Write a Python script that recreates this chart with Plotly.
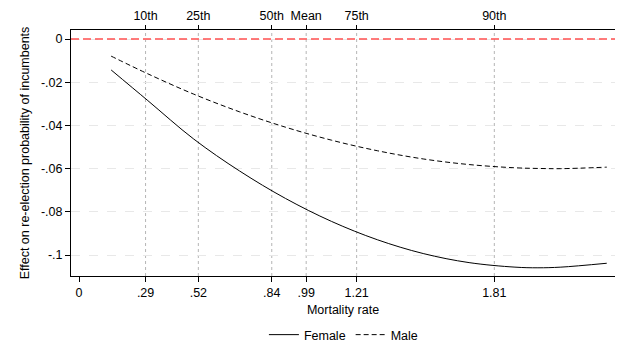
import plotly.graph_objects as go

# Mortality rate grid and predicted effects
mortality = [0.14, 0.3, 0.5, 0.7, 0.9, 1.1, 1.3, 1.5, 1.7, 1.9, 2.0, 2.1, 2.3]
female_effect = [-0.0143, -0.0285, -0.0463, -0.0611, -0.0738, -0.0844, -0.0929,
                 -0.0993, -0.1035, -0.1056, -0.1059, -0.1056, -0.1038]
male_effect = [-0.0079, -0.0161, -0.0255, -0.0337, -0.0408, -0.0468, -0.0517,
               -0.0555, -0.0581, -0.0596, -0.0599, -0.0600, -0.0593]

# Distribution markers
pct_values = [0.29, 0.52, 0.84, 0.99, 1.21, 1.81]
pct_labels = ["10th", "25th", "50th", "Mean", "75th", "90th"]
bottom_ticks = [0, 0.29, 0.52, 0.84, 0.99, 1.21, 1.81]
bottom_labels = ["0", ".29", ".52", ".84", ".99", "1.21", "1.81"]
y_ticks = [0, -0.02, -0.04, -0.06, -0.08, -0.1]
y_labels = ["0", "-.02", "-.04", "-.06", "-.08", "-.1"]

x_range = [-0.035, 2.336]
y_range = [-0.1097, 0.0042]
font_family = "Liberation Sans, Arial, sans-serif"

fig = go.Figure()
fig.add_trace(go.Scatter(x=mortality, y=female_effect, mode="lines", name="Female",
                         line=dict(color="black", width=1, shape="spline")))
fig.add_trace(go.Scatter(x=mortality, y=male_effect, mode="lines", name="Male",
                         line=dict(color="black", width=1, dash="5px,3px", shape="spline")))
# dummy trace to activate the top axis
fig.add_trace(go.Scatter(x=[None], y=[None], xaxis="x2", showlegend=False))

shapes = []
for v in pct_values:
    shapes.append(dict(type="line", xref="x", yref="paper", x0=v, x1=v, y0=0, y1=1,
                       line=dict(color="#b5b5b5", width=1, dash="dot"), layer="below"))
shapes.append(dict(type="line", xref="paper", yref="y", x0=0, x1=1, y0=0, y1=0,
                   line=dict(color="#ff5050", width=1.5, dash="8px,4px")))
fig.update_layout(shapes=shapes)

fig.update_layout(
    width=621, height=350,
    margin=dict(l=71, r=6, t=30, b=74, autoexpand=False),
    paper_bgcolor="white", plot_bgcolor="white",
    font=dict(family=font_family, size=12.5, color="black"),
    xaxis=dict(range=x_range, tickvals=bottom_ticks, ticktext=bottom_labels,
               showgrid=False, zeroline=False, showline=True, linecolor="black",
               linewidth=1, ticks="outside", ticklen=5, tickcolor="black",
               automargin=False,
               title=dict(text="Mortality rate", standoff=6, font=dict(size=12.5))),
    xaxis2=dict(range=x_range, overlaying="x", side="top", tickvals=pct_values,
                ticktext=pct_labels, showgrid=False, zeroline=False, showline=True,
                linecolor="black", linewidth=1, ticks="outside", ticklen=4,
                tickcolor="black", automargin=False),
    yaxis=dict(range=y_range, tickvals=y_ticks, ticktext=y_labels,
               showgrid=True, gridcolor="#e8e8e8", griddash="dash", gridwidth=1,
               zeroline=False, showline=True, linecolor="black", linewidth=1,
               ticks="outside", ticklen=5, tickcolor="black", automargin=False,
               title=dict(text="Effect on re-election probability of incumbents",
                          font=dict(size=12.5), standoff=8)),
    legend=dict(orientation="h", x=0.553, xref="container", xanchor="center",
                y=16, yref="container", yanchor="middle", font=dict(size=12.5)),
)

fig.write_html("out.html")
